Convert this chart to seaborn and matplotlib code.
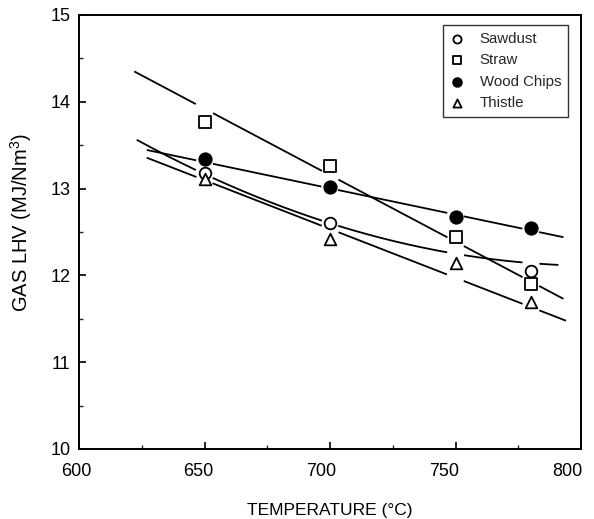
import numpy as np
import matplotlib
matplotlib.use("Agg")
import matplotlib.pyplot as plt
import matplotlib.transforms as mtrans
import seaborn as sns

# ---- data ----
saw_t = [650, 700, 780]
saw_v = [13.18, 12.60, 12.05]
straw_t = [650, 700, 750, 780]
straw_v = [13.77, 13.26, 12.44, 11.90]
wood_t = [650, 700, 750, 780]
wood_v = [13.34, 13.02, 12.67, 12.55]
thistle_t = [650, 700, 750, 780]
thistle_v = [13.11, 12.42, 12.14, 11.69]

# fitted curves as drawn in the reference (read points along each curve)
saw_fit_t = [623, 650, 700, 736, 749, 777, 791]
saw_fit_v = [13.56, 13.17, 12.60, 12.34, 12.24, 12.14, 12.13]
straw_fit_t = [622, 793]
straw_fit_v = [14.35, 11.73]
wood_fit_t = [627, 793]
wood_fit_v = [13.445, 12.44]
thistle_fit_t = [627, 794]
thistle_fit_v = [13.356, 11.478]

gap_cols = [650, 700, 750, 780]

x_ticks = [600, 650, 700, 750, 800]
y_ticks = [10, 11, 12, 13, 14, 15]

sns.set_theme(style="white")
plt.rcParams['font.family'] = ['Liberation Sans', 'DejaVu Sans']
plt.rcParams['mathtext.fontset'] = 'custom'
plt.rcParams['mathtext.rm'] = 'Liberation Sans'

fig = plt.figure(figsize=(5.94, 5.19), dpi=100)
ax = fig.add_axes([79/594, 1 - 449/519, (581-79)/594, (449-15)/519])

def draw_fit(t, v, order):
    coef = np.polyfit(t, v, order)
    xs = np.linspace(min(t), max(t), 600)
    ys = np.polyval(coef, xs)
    for c in gap_cols:
        ys[np.abs(xs - c) < 3.2] = np.nan
    ax.plot(xs, ys, color='black', lw=1.3, solid_capstyle='butt', zorder=2)

draw_fit(saw_fit_t, saw_fit_v, 2)
draw_fit(straw_fit_t, straw_fit_v, 1)
draw_fit(wood_fit_t, wood_fit_v, 1)
draw_fit(thistle_fit_t, thistle_fit_v, 1)

series = [
    ("Sawdust", saw_t, saw_v, 'o', 'white', 70),
    ("Straw", straw_t, straw_v, 's', 'white', 70),
    ("Wood Chips", wood_t, wood_v, 'o', 'black', 80),
    ("Thistle", thistle_t, thistle_v, '^', 'white', 70),
]
for name, t, v, m, fc, s in series:
    sns.scatterplot(x=t, y=v, marker=m, s=s, facecolor=fc, edgecolor='black',
                    linewidth=1.3, label=name, ax=ax, zorder=3)

ax.set_xlim(600, 800)
ax.set_ylim(10, 15)
ax.set_xticks(x_ticks)
ax.set_yticks(y_ticks)
ax.set_xticks([625, 675, 725, 775], minor=True)
ax.set_yticks([10.5, 11.5, 12.5, 13.5, 14.5], minor=True)
ax.tick_params(axis='both', which='major', direction='in', length=5, width=1.2,
               labelsize=13, colors='black', bottom=True, left=True, top=False, right=False)
ax.tick_params(axis='x', which='major', pad=10)
ax.tick_params(axis='y', which='major', pad=6)
ax.tick_params(axis='both', which='minor', direction='in', length=3, width=1.0,
               bottom=True, left=True, top=False, right=False)
for sp in ax.spines.values():
    sp.set_color('black')
    sp.set_linewidth(1.4)

# the scanned original drifts its x tick labels slightly left
for lab, dx in zip(ax.get_xticklabels(), [-3, -6, -9, -11, -14]):
    lab.set_transform(lab.get_transform() + mtrans.ScaledTranslation(dx / 100, 0, fig.dpi_scale_trans))

ax.set_xlabel("TEMPERATURE (°C)", fontsize=12.5, color='black')
ax.set_ylabel("GAS LHV (MJ/Nm$^3$)", fontsize=14.5, color='black')
ax.xaxis.label.set_va('center')
ax.yaxis.label.set_va('center')
ax.xaxis.set_label_coords(0.5, (449 - 510) / 434)
ax.yaxis.set_label_coords((21 - 79) / 502, (449 - 222) / 434)

leg = ax.legend(loc='upper right', bbox_to_anchor=((568 - 79) / 502, 1 - (25 - 15) / 434),
                borderaxespad=0, frameon=True, fancybox=False,
                edgecolor='black', fontsize=10.8, markerscale=0.7, handletextpad=1.1,
                labelspacing=0.5, borderpad=0.45, handlelength=0.9)
leg.get_frame().set_linewidth(1.0)

fig.savefig("out.png", dpi=100)
